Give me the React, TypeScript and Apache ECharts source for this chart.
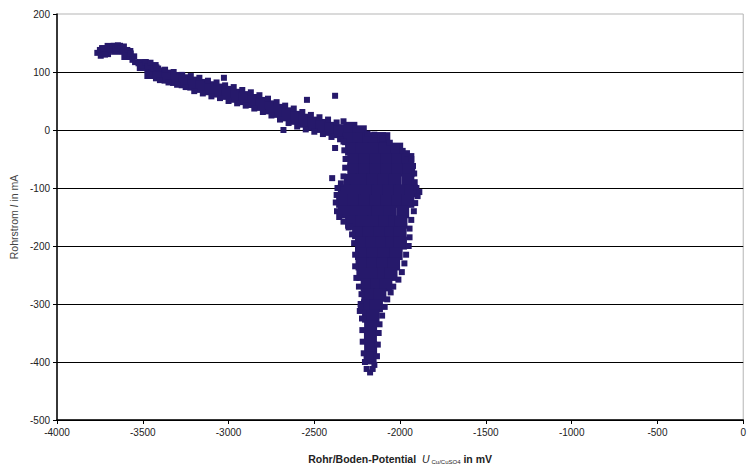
import React, { useEffect, useRef } from "react";
import * as echarts from "echarts";

// Axis ranges / ticks
const xMin = -4000;
const xMax = 0;
const xStep = 500;
const yMin = -500;
const yMax = 200;
const yStep = 100;

// Dense core of the upper (sloping) branch: [potential mV, current mA]
const bandCore: [number, number][] = [
  [-3450, 100], [-3400, 96], [-3350, 92], [-3300, 88], [-3250, 84], [-3200, 80],
  [-3150, 76], [-3100, 72], [-3050, 68], [-3000, 64], [-2950, 59], [-2900, 55],
  [-2850, 50], [-2800, 45], [-2750, 39], [-2700, 33], [-2650, 27], [-2600, 21],
  [-2550, 16], [-2500, 11], [-2450, 7], [-2400, 2], [-2350, -2], [-2290, 2], [-2235, -4],
];

// Dense core of the top-left cluster
const clusterCore: [number, number][] = [
  [-3720, 136], [-3650, 140], [-3590, 131], [-3500, 112],
];

// Dense core of the vertical branch
const blobCore: [number, number][] = [
  [-2300, -15], [-2240, -15], [-2180, -15], [-2120, -15], [-2095, -15],
  [-2283, -33], [-2220, -33], [-2155, -33], [-2090, -33], [-2020, -33],
  [-2270, -51], [-2205, -51], [-2140, -51], [-2075, -51], [-2010, -51], [-1955, -51],
  [-2270, -69], [-2205, -69], [-2140, -69], [-2075, -69], [-2010, -69], [-1950, -69],
  [-2290, -87], [-2225, -87], [-2160, -87], [-2095, -87], [-2030, -87], [-1955, -87],
  [-2325, -105], [-2260, -105], [-2195, -105], [-2130, -105], [-2065, -105], [-2000, -105], [-1935, -105],
  [-2335, -123], [-2270, -123], [-2205, -123], [-2140, -123], [-2075, -123], [-2010, -123], [-1955, -123],
  [-2325, -141], [-2260, -141], [-2195, -141], [-2130, -141], [-2060, -141], [-1985, -141],
  [-2283, -159], [-2220, -159], [-2155, -159], [-2090, -159], [-2030, -159], [-1995, -159],
  [-2242, -177], [-2180, -177], [-2115, -177], [-2055, -177], [-2000, -177],
  [-2225, -195], [-2165, -195], [-2105, -195], [-2045, -195], [-1998, -195],
  [-2225, -213], [-2160, -213], [-2095, -213], [-2023, -213],
  [-2222, -231], [-2160, -231], [-2100, -231], [-2038, -231],
  [-2217, -249], [-2155, -249], [-2095, -249], [-2053, -249],
  [-2192, -267], [-2135, -267], [-2083, -267],
  [-2188, -285], [-2118, -285],
  [-2190, -303], [-2138, -303],
  [-2184, -321], [-2158, -321],
  [-2172, -339], [-2173, -357], [-2172, -375], [-2175, -393],
];

// Scattered single measurements along the edges
const clusterEdge: [number, number][] = [
  [-3765, 133], [-3750, 138], [-3745, 128], [-3730, 141], [-3720, 130], [-3705, 145],
  [-3690, 138], [-3675, 145], [-3660, 140], [-3645, 146], [-3630, 141], [-3620, 136],
  [-3610, 144], [-3600, 131], [-3590, 138], [-3580, 126], [-3570, 132], [-3560, 121],
  [-3550, 127], [-3545, 117], [-3525, 115], [-3505, 112], [-3485, 117], [-3470, 110],
  [-3455, 116], [-3440, 106], [-3425, 112], [-3410, 106],
];

const bandEdge: [number, number][] = [
  [-3420, 108], [-3370, 104], [-3320, 100], [-3270, 95], [-3220, 93], [-3170, 90],
  [-3120, 85], [-3070, 82], [-3020, 77], [-2970, 74], [-2920, 69], [-2870, 65],
  [-2820, 60], [-2770, 54], [-2720, 48], [-2670, 42], [-2620, 37], [-2570, 31],
  [-2520, 26], [-2470, 22], [-2420, 18], [-2370, 13], [-2330, 15],
  [-3400, 86], [-3350, 82], [-3300, 78], [-3250, 74], [-3200, 67], [-3150, 63],
  [-3100, 58], [-3050, 55], [-3000, 50], [-2950, 46], [-2900, 42], [-2850, 37],
  [-2800, 31], [-2750, 25], [-2700, 18], [-2650, 12], [-2600, 6], [-2550, 1],
  [-2500, -3], [-2450, -7], [-2400, -12], [-2350, -16],
];

const blobEdge: [number, number][] = [
  [-2190, -6], [-2150, -8], [-2100, -15], [-2060, -22], [-2020, -28], [-1985, -36],
  [-1960, -40], [-1935, -50], [-1925, -62], [-1918, -75], [-1915, -90], [-1905, -100],
  [-1888, -107], [-1898, -114], [-1912, -126], [-1920, -140], [-1935, -155], [-1945, -170],
  [-1945, -185], [-1950, -200], [-1965, -215], [-1975, -230], [-1990, -245], [-2010, -258],
  [-2040, -270], [-2055, -280], [-2075, -292], [-2090, -305], [-2105, -320], [-2120, -335],
  [-2125, -350], [-2130, -370], [-2135, -390], [-2150, -405],
  [-2330, -20], [-2325, -35], [-2318, -50], [-2320, -65], [-2330, -80], [-2345, -92],
  [-2365, -100], [-2370, -112], [-2375, -125], [-2368, -140], [-2355, -150], [-2330, -158],
  [-2300, -168], [-2280, -180], [-2268, -195], [-2262, -215], [-2262, -235], [-2255, -255],
  [-2240, -270], [-2225, -283], [-2230, -300], [-2235, -312], [-2222, -325], [-2220, -345],
  [-2218, -365], [-2212, -385], [-2205, -400], [-2195, -412], [-2175, -418], [-2160, -412],
];

const outliers: [number, number][] = [
  [-3027, 90], [-2543, 52], [-2379, 59], [-2680, 0], [-2379, -31],
  [-2396, -83], [-2292, -167], [-2229, -305],
];

const DOT = "#26196b";
const FONT = "'Liberation Sans', Arial, sans-serif";

export default function App() {
  const ref = useRef<HTMLDivElement>(null);

  useEffect(() => {
    if (!ref.current) return;
    const chart = echarts.init(ref.current, undefined, { renderer: "svg" });
    const dotStyle = { color: DOT, opacity: 1 };
    const makeSeries = (data: [number, number][], size: number) => ({
      type: "scatter",
      data,
      symbol: "rect",
      symbolSize: size,
      itemStyle: dotStyle,
      emphasis: { disabled: true },
      silent: true,
    });
    const plain = (v: number) => String(v);
    chart.setOption({
      animation: false,
      grid: {
        left: 55,
        right: 3,
        top: 14,
        bottom: 49,
        show: true,
        borderColor: "#b5b5b5",
        borderWidth: 1,
        backgroundColor: "transparent",
      },
      xAxis: {
        type: "value",
        min: xMin,
        max: xMax,
        interval: xStep,
        name: "{b|Rohr/Boden-Potential  }{u|U}{s|Cu/CuSO4}{b| in mV}",
        nameLocation: "middle",
        nameGap: 32,
        nameTextStyle: {
          rich: {
            b: { fontSize: 10.5, fontWeight: "bold", color: "#222", fontFamily: FONT },
            u: { fontSize: 10.5, fontStyle: "italic", color: "#222", fontFamily: FONT },
            s: { fontSize: 6, color: "#222", fontFamily: FONT, padding: [7, 0, 0, 2] },
          },
        },
        axisLine: { show: true, onZero: false, lineStyle: { color: "#000", width: 1.5 } },
        axisTick: { show: true, length: 4, lineStyle: { color: "#000" } },
        axisLabel: { fontSize: 10, color: "#222", fontFamily: FONT, margin: 7, formatter: plain },
        splitLine: { show: false },
      },
      yAxis: {
        type: "value",
        min: yMin,
        max: yMax,
        interval: yStep,
        name: "{a|Rohrstrom }{i|I}{a| in mA}",
        nameLocation: "middle",
        nameGap: 38,
        nameTextStyle: {
          rich: {
            a: { fontSize: 10.5, color: "#444", fontFamily: FONT },
            i: { fontSize: 10.5, fontStyle: "italic", color: "#444", fontFamily: FONT },
          },
        },
        axisLine: { show: true, onZero: false, lineStyle: { color: "#000", width: 1.5 } },
        axisTick: { show: true, length: 4, lineStyle: { color: "#000" } },
        axisLabel: { fontSize: 10, color: "#222", fontFamily: FONT, margin: 7, formatter: plain },
        splitLine: {
          show: true,
          showMaxLine: false,
          lineStyle: { color: "#000", width: 1.2 },
        },
      },
      series: [
        makeSeries(bandCore, 14),
        makeSeries(clusterCore, 12),
        makeSeries(blobCore, 13),
        makeSeries(clusterEdge, 6),
        makeSeries(bandEdge, 6),
        makeSeries(blobEdge, 6),
        makeSeries(outliers, 6),
      ],
    });
    return () => chart.dispose();
  }, []);

  return (
    <div
      ref={ref}
      style={{ position: "fixed", left: 0, top: 0, width: 749, height: 470, background: "#fff" }}
    />
  );
}
